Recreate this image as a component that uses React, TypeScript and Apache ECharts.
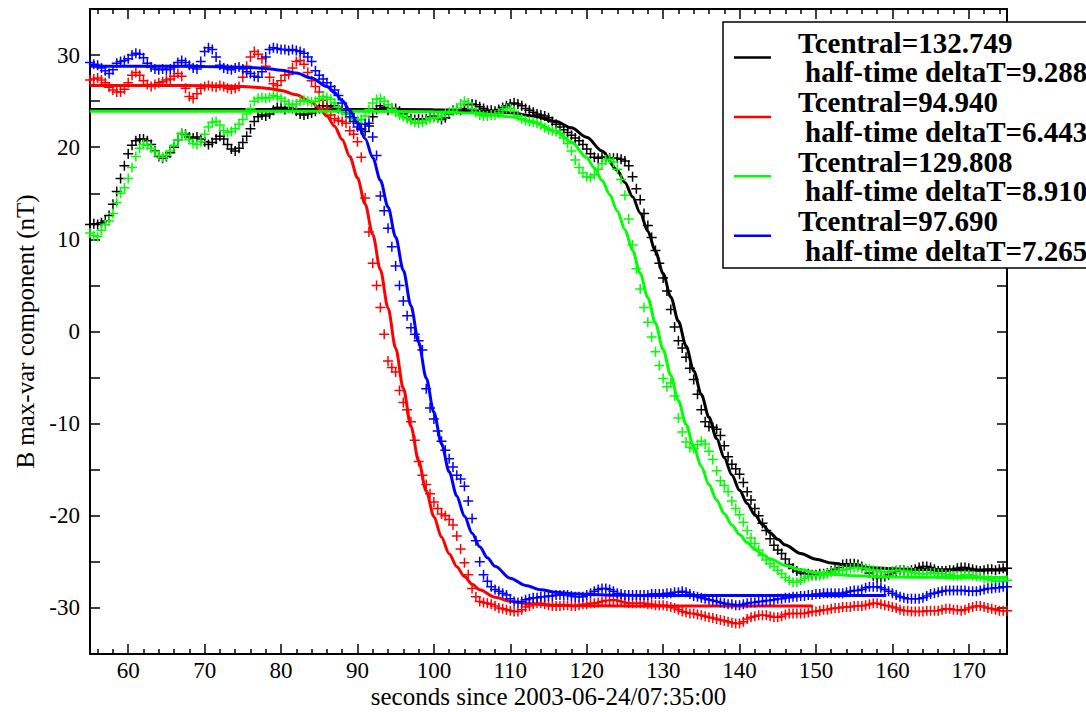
import React, { useEffect, useRef } from "react";
import * as echarts from "echarts";

// sampling grid of the measured data (seconds)
const T_START = 55;
const T_STEP = 0.5;

const BLACK = [
  11.6, 11.7, 11.6, 11.8, 12.0, 12.6, 13.8, 15.2, 16.6, 18.0,
  19.3, 20.2, 20.7, 20.9, 20.9, 20.7, 20.3, 19.6, 19.0, 18.8,
  19.0, 19.4, 20.0, 20.8, 21.5, 21.4, 21.1, 21.0, 21.1, 20.9,
  20.6, 20.3, 20.5, 20.9, 21.2, 20.9, 20.3, 19.8, 19.6, 19.9,
  20.5, 21.2, 22.0, 22.8, 23.3, 23.5, 23.4, 23.6, 24.0, 24.3,
  24.3, 24.1, 24.3, 24.2, 23.9, 23.6, 23.5, 23.6, 23.7, 23.9,
  24.2, 24.5, 24.5, 24.4, 24.5, 24.2, 24.0, 23.8, 23.6, 23.2,
  22.6, 22.0, 21.7, 22.3, 23.3, 24.1, 24.5, 24.3, 24.0, 24.2,
  24.2, 23.9, 23.6, 23.3, 23.1, 23.0, 23.1, 23.0, 23.1, 23.3,
  23.4, 23.2, 23.0, 23.2, 23.6, 24.0, 24.1, 24.0, 24.2, 24.6,
  24.7, 24.6, 24.4, 24.2, 24.0, 24.0, 23.9, 24.1, 24.3, 24.5,
  24.7, 24.8, 24.7, 24.5, 24.2, 24.0, 23.8, 23.6, 23.5, 23.4,
  23.2, 22.8, 22.5, 22.2, 21.9, 21.6, 21.3, 21.0, 20.7, 20.3,
  19.8, 19.3, 18.9, 18.8, 18.9, 18.9, 18.8, 18.8, 18.8, 18.7,
  18.5, 18.0, 16.8, 15.5, 14.3, 12.8, 11.5, 10.2, 8.8, 7.4,
  5.8, 4.4, 2.4, 0.5, -1.0, -1.8, -2.8, -4.0, -5.2, -6.8,
  -8.5, -9.8, -10.3, -10.4, -10.6, -11.3, -12.4, -13.6, -14.4, -14.9,
  -15.5, -16.4, -17.4, -18.3, -19.2, -20.0, -20.8, -21.6, -22.5, -23.2,
  -23.7, -24.1, -24.7, -25.3, -25.7, -26.0, -26.2, -26.3, -26.3, -26.4,
  -26.4, -26.3, -26.3, -26.2, -26.0, -25.8, -25.6, -25.3, -25.2, -25.2,
  -25.2, -25.3, -25.5, -25.8, -26.2, -26.5, -26.7, -26.7, -26.6, -26.4,
  -26.2, -26.0, -25.9, -25.9, -26.0, -25.9, -25.8, -25.6, -25.5, -25.5,
  -25.6, -25.8, -26.0, -26.0, -26.0, -25.9, -25.9, -25.7, -25.6, -25.6,
  -25.7, -25.8, -25.9, -26.0, -25.9, -25.8, -25.8, -25.9, -25.8, -25.7,
  -25.7,
];

const RED = [
  27.3, 27.4, 27.5, 27.3, 27.0, 26.5, 26.2, 26.0, 26.0, 26.3,
  27.0, 27.8, 28.1, 27.8, 27.2, 26.8, 26.6, 26.8, 27.0, 27.1,
  27.3, 27.4, 27.7, 28.0, 27.7, 26.4, 25.5, 25.3, 25.8, 26.4,
  26.6, 26.7, 26.6, 26.5, 26.7, 26.6, 26.4, 26.3, 26.4, 26.6,
  27.6, 28.8, 29.8, 30.4, 30.1, 29.6, 28.8, 27.6, 26.9, 26.7,
  27.2, 27.8, 27.9, 28.6, 29.3, 29.4, 29.0, 28.1, 27.2, 26.6,
  26.0, 25.1, 24.2, 23.5, 23.1, 22.9, 22.8, 22.6, 21.8, 21.4,
  20.6, 18.9, 14.5, 10.8, 7.4, 5.0, 2.6, -0.3, -3.2, -3.9,
  -4.4, -6.4, -7.7, -8.5, -9.8, -11.8, -14.1, -15.6, -16.6, -17.6,
  -18.5, -19.2, -19.8, -20.0, -20.4, -21.0, -22.2, -23.6, -25.1, -26.4,
  -27.9, -28.8, -29.3, -29.4, -29.5, -29.6, -29.8, -30.0, -30.1, -30.2,
  -30.3, -30.4, -30.4, -30.2, -29.9, -29.8, -29.6, -29.5, -29.5, -29.6,
  -29.7, -29.8, -29.8, -29.8, -29.7, -29.7, -29.8, -29.8, -29.7, -29.6,
  -29.6, -29.5, -29.5, -29.4, -29.3, -29.2, -29.2, -29.1, -29.2, -29.3,
  -29.4, -29.5, -29.5, -29.5, -29.5, -29.5, -29.6, -29.6, -29.7, -29.7,
  -29.7, -29.8, -29.9, -30.0, -30.2, -30.4, -30.5, -30.6, -30.6, -30.7,
  -30.8, -30.9, -31.0, -31.1, -31.2, -31.3, -31.4, -31.5, -31.6, -31.7,
  -31.7, -31.5, -31.2, -31.0, -30.9, -30.8, -30.8, -30.8, -30.9, -31.0,
  -31.0, -30.9, -30.7, -30.6, -30.6, -30.6, -30.6, -30.6, -30.5, -30.4,
  -30.4, -30.3, -30.2, -30.2, -30.1, -30.0, -30.0, -29.9, -29.9, -29.9,
  -29.8, -29.8, -29.8, -29.7, -29.6, -29.5, -29.5, -29.6, -29.7, -29.8,
  -29.9, -30.0, -30.2, -30.3, -30.3, -30.4, -30.4, -30.4, -30.4, -30.3,
  -30.3, -30.3, -30.3, -30.2, -30.1, -30.1, -30.2, -30.2, -30.3, -30.2,
  -30.0, -29.9, -29.8, -29.8, -29.9, -30.0, -30.1, -30.2, -30.3, -30.3,
  -30.3,
];

const GREEN = [
  10.7, 10.4, 10.3, 11.0, 11.6, 12.0, 12.8, 14.0, 15.0, 15.6,
  16.6, 17.8, 19.0, 19.9, 20.3, 20.2, 19.9, 19.5, 19.1, 18.9,
  19.1, 19.6, 20.2, 20.8, 21.5, 21.3, 20.8, 20.4, 20.3, 20.6,
  21.4, 22.2, 22.7, 22.8, 22.4, 21.8, 21.6, 21.7, 22.0, 22.5,
  23.0, 23.6, 24.2, 25.0, 25.3, 25.4, 25.3, 25.4, 25.6, 25.5,
  25.3, 25.0, 24.7, 24.6, 24.7, 25.0, 25.1, 25.0, 24.9, 25.0,
  25.3, 25.5, 25.4, 25.2, 24.8, 24.4, 24.0, 23.6, 23.2, 23.0,
  22.9, 23.0, 23.4, 24.1, 24.8, 25.2, 25.3, 25.0, 24.6, 24.1,
  23.8, 23.5, 23.3, 23.1, 22.9, 22.7, 22.6, 22.7, 22.9, 23.1,
  23.2, 23.2, 23.4, 23.7, 23.8, 23.9, 24.2, 24.7, 25.0, 24.8,
  24.2, 23.8, 23.5, 23.4, 23.4, 23.5, 23.5, 23.7, 24.0, 24.2,
  24.2, 23.9, 23.4, 23.1, 22.9, 22.8, 22.7, 22.6, 22.4, 22.1,
  21.9, 21.8, 21.7, 21.5, 21.0, 20.4, 19.6, 18.6, 17.8, 17.2,
  16.8, 16.7, 17.0, 17.6, 18.2, 18.6, 18.7, 18.4, 17.6, 16.5,
  14.8, 12.2, 9.4, 6.8, 4.6, 2.6, 1.0, -0.6, -2.2, -3.7,
  -5.1, -6.0, -5.6, -7.0, -9.4, -10.9, -12.0, -12.6, -12.7, -12.3,
  -11.9, -12.2, -13.0, -13.9, -15.1, -16.2, -16.7, -17.4, -18.4, -19.2,
  -19.9, -20.7, -21.6, -22.4, -23.0, -23.7, -24.3, -24.8, -25.2, -25.5,
  -25.9, -26.3, -26.7, -27.0, -27.2, -27.2, -27.0, -26.8, -26.6, -26.5,
  -26.5, -26.5, -26.4, -26.3, -26.1, -26.0, -25.9, -25.9, -25.8, -25.7,
  -25.6, -25.6, -25.7, -25.7, -25.8, -25.9, -26.0, -26.1, -26.1, -26.1,
  -26.0, -25.9, -25.9, -26.0, -26.0, -26.1, -26.2, -26.3, -26.3, -26.3,
  -26.2, -26.2, -26.3, -26.3, -26.4, -26.4, -26.5, -26.5, -26.5, -26.4,
  -26.4, -26.5, -26.6, -26.6, -26.8, -26.9, -27.0, -27.1, -27.1, -27.1,
  -27.0,
];

const BLUE = [
  29.2, 29.0, 28.9, 28.6, 28.3, 28.0, 28.4, 29.1, 29.3, 29.4,
  29.6, 30.0, 30.2, 30.1, 29.7, 29.1, 28.7, 28.5, 28.4, 28.5,
  28.4, 28.5, 28.7, 29.2, 29.4, 29.2, 28.9, 28.6, 28.5, 29.3,
  30.4, 30.8, 30.6, 29.8, 28.9, 28.6, 28.5, 28.4, 28.6, 28.7,
  28.5, 28.2, 28.0, 27.7, 27.6, 28.2, 29.8, 30.6, 30.8, 30.7,
  30.6, 30.6, 30.5, 30.6, 30.5, 30.4, 30.2, 29.8, 29.3, 28.3,
  27.8, 27.4, 27.0, 26.6, 26.2, 25.6, 24.8, 24.0, 23.3, 22.8,
  22.2, 21.9, 22.5, 22.6, 21.1, 19.1, 14.7, 13.1, 11.2, 9.2,
  7.1, 5.0, 3.3, 1.7, 0.4, -0.3, -1.0, -2.0, -6.2, -8.3,
  -9.5, -10.8, -11.9, -12.9, -13.8, -14.7, -15.6, -16.0, -16.8, -18.4,
  -20.3, -22.7, -25.0, -26.4, -27.1, -27.7, -28.0, -28.2, -28.4, -28.6,
  -29.0, -29.3, -29.4, -29.3, -29.1, -29.0, -28.9, -28.9, -28.8, -28.8,
  -28.7, -28.7, -28.6, -28.6, -28.6, -28.6, -28.7, -28.8, -28.8, -28.8,
  -28.6, -28.4, -28.2, -28.0, -27.9, -27.9, -28.0, -28.2, -28.4, -28.5,
  -28.6, -28.6, -28.6, -28.6, -28.6, -28.6, -28.6, -28.5, -28.5, -28.5,
  -28.5, -28.4, -28.4, -28.3, -28.3, -28.2, -28.3, -28.5, -28.7, -28.8,
  -28.9, -29.0, -29.1, -29.2, -29.3, -29.4, -29.5, -29.6, -29.6, -29.7,
  -29.7, -29.6, -29.5, -29.4, -29.4, -29.3, -29.3, -29.2, -29.2, -29.1,
  -29.0, -29.0, -28.9, -28.9, -28.8, -28.8, -28.7, -28.7, -28.6, -28.6,
  -28.5, -28.5, -28.4, -28.4, -28.4, -28.4, -28.4, -28.4, -28.3, -28.2,
  -28.1, -28.1, -28.0, -27.8, -27.7, -27.7, -27.7, -27.8, -28.0, -28.2,
  -28.4, -28.6, -28.8, -28.9, -29.0, -29.0, -29.0, -29.0, -28.9, -28.7,
  -28.5, -28.4, -28.3, -28.2, -28.1, -28.1, -28.1, -28.1, -28.1, -28.1,
  -28.2, -28.2, -28.2, -28.1, -28.0, -27.9, -27.9, -27.8, -27.8, -27.7,
  -27.7,
];

// fitted curves, tabulated (time, value)
const BLACK_FIT_T = [55, 90, 100, 105, 110, 113, 116, 118, 120, 122, 124, 125, 126, 127, 128, 129, 130, 131, 132, 133, 134, 135, 136, 137, 138, 139, 140, 141, 142, 143, 144, 145, 146, 148, 150, 152, 155, 158, 162, 166, 170, 175];
const BLACK_FIT_V = [24.1, 24.1, 24.06, 23.97, 23.73, 23.4, 22.78, 22.1, 21.08, 19.6, 17.5, 16.17, 14.63, 12.86, 10.87, 8.68, 6.29, 3.75, 1.11, -1.58, -4.25, -6.84, -9.31, -11.61, -13.7, -15.58, -17.23, -18.67, -19.9, -20.95, -21.83, -22.56, -23.18, -24.09, -24.71, -25.12, -25.49, -25.68, -25.81, -25.86, -25.88, -25.89];

const RED_FIT_T = [55, 65, 70, 75, 78, 80, 82, 84, 85, 86, 87, 88, 89, 90, 91, 92, 93, 94, 95, 96, 97, 98, 99, 100, 101, 102, 103, 104, 105, 106, 108, 110, 112, 115, 120, 130, 149.6];
const RED_FIT_V = [26.7, 26.69, 26.68, 26.58, 26.41, 26.16, 25.7, 24.87, 24.23, 23.39, 22.28, 20.83, 18.98, 16.68, 13.85, 10.52, 6.71, 2.54, -1.81, -6.16, -10.29, -14.04, -17.32, -20.08, -22.33, -24.12, -25.52, -26.6, -27.42, -28.03, -28.84, -29.28, -29.52, -29.69, -29.77, -29.8, -29.8];

const GREEN_FIT_T = [55, 90, 100, 105, 110, 113, 116, 118, 120, 121, 122, 123, 124, 125, 126, 127, 128, 129, 130, 131, 132, 133, 134, 135, 136, 137, 138, 139, 140, 141, 142, 143, 144, 146, 148, 150, 152, 155, 160, 165, 175];
const GREEN_FIT_V = [23.9, 23.89, 23.84, 23.71, 23.31, 22.76, 21.72, 20.56, 18.86, 17.75, 16.42, 14.88, 13.09, 11.07, 8.8, 6.32, 3.66, 0.89, -1.95, -4.76, -7.5, -10.09, -12.5, -14.67, -16.61, -18.3, -19.76, -21.0, -22.04, -22.9, -23.62, -24.21, -24.69, -25.4, -25.86, -26.16, -26.35, -26.52, -26.64, -26.68, -26.7];

const BLUE_FIT_T = [55, 65, 70, 75, 78, 80, 82, 84, 86, 87, 88, 89, 90, 91, 92, 93, 94, 95, 96, 97, 98, 99, 100, 101, 102, 103, 104, 105, 106, 107, 108, 110, 112, 114, 116, 118, 120, 125, 130, 140, 159.2];
const BLUE_FIT_V = [28.8, 28.79, 28.77, 28.69, 28.55, 28.36, 28.05, 27.5, 26.59, 25.92, 25.07, 23.99, 22.63, 20.94, 18.87, 16.41, 13.52, 10.25, 6.64, 2.79, -1.16, -5.05, -8.77, -12.18, -15.22, -17.85, -20.06, -21.89, -23.37, -24.55, -25.48, -26.78, -27.56, -28.02, -28.29, -28.45, -28.54, -28.63, -28.65, -28.66, -28.66];

const LEGEND_LINES = [
  "Tcentral=132.749", "half-time deltaT=9.288",
  "Tcentral=94.940", "half-time deltaT=6.443",
  "Tcentral=129.808", "half-time deltaT=8.910",
  "Tcentral=97.690", "half-time deltaT=7.265",
];
const COLORS = ["#000000", "#ff0000", "#00ff00", "#0000ff"];

const X_MAJOR = [60, 70, 80, 90, 100, 110, 120, 130, 140, 150, 160, 170];
const X_MINOR = [56, 58, 62, 64, 66, 68, 72, 74, 76, 78, 82, 84, 86, 88, 92, 94, 96, 98, 102, 104, 106, 108, 112, 114, 116, 118, 122, 124, 126, 128, 132, 134, 136, 138, 142, 144, 146, 148, 152, 154, 156, 158, 162, 164, 166, 168, 172, 174];
const Y_TICKS = [-30, -25, -20, -15, -10, -5, 0, 5, 10, 15, 20, 25, 30];
const Y_LABELS = [-30, -20, -10, 0, 10, 20, 30];

const SERIF = "Liberation Serif";
const PLUS = "path://M-1,-0.15L-0.15,-0.15L-0.15,-1L0.15,-1L0.15,-0.15L1,-0.15L1,0.15L0.15,0.15L0.15,1L-0.15,1L-0.15,0.15L-1,0.15Z";

function pairsFromGrid(vals: number[]) {
  return vals.map((v, i) => [T_START + i * T_STEP, v]);
}
function pairs(ts: number[], vs: number[]) {
  return ts.map((t, i) => [t, vs[i]]);
}

export default function App() {
  const ref = useRef<HTMLDivElement>(null);
  useEffect(() => {
    if (!ref.current) return;
    const chart = echarts.init(ref.current, undefined, { renderer: "svg" });
    const lineAxis = { onZero: false, lineStyle: { color: "#000", width: 2 } };
    const xBase = { type: "value", min: 55, max: 175, splitLine: { show: false } };
    const yBase = { type: "value", min: -35, max: 35, interval: 5, splitLine: { show: false } };

    const dataSets = [BLACK, RED, GREEN, BLUE];
    const fits = [
      pairs(BLACK_FIT_T, BLACK_FIT_V),
      pairs(RED_FIT_T, RED_FIT_V),
      pairs(GREEN_FIT_T, GREEN_FIT_V),
      pairs(BLUE_FIT_T, BLUE_FIT_V),
    ];
    const series: any[] = [];
    dataSets.forEach((d, k) => {
      series.push({
        type: "scatter",
        data: pairsFromGrid(d),
        symbol: PLUS,
        symbolSize: 10,
        itemStyle: { color: COLORS[k], opacity: 1 },
        silent: true,
        z: 2 + k * 2,
      });
      series.push({
        type: "line",
        data: fits[k],
        showSymbol: false,
        symbol: "none",
        smooth: 0.3,
        smoothMonotone: "x",
        lineStyle: { color: COLORS[k], width: 3 },
        silent: true,
        z: 3 + k * 2,
      });
    });

    const legendEls: any[] = [
      {
        type: "rect",
        shape: { x: 723, y: 22, width: 420, height: 246 },
        style: { fill: "#fff", stroke: "#000", lineWidth: 1.5 },
        z: 100,
      },
    ];
    const lineYs = [42.5, 72.3, 102, 131.8, 161.5, 191.2, 221, 250.6];
    COLORS.forEach((c, k) => {
      const y = (lineYs[2 * k] + lineYs[2 * k + 1]) / 2;
      legendEls.push({
        type: "line",
        shape: { x1: 734, y1: y, x2: 771, y2: y },
        style: { stroke: c, lineWidth: 2.5 },
        z: 101,
      });
    });
    const titles = LEGEND_LINES.map((t, i) => ({
      text: t,
      left: i % 2 === 0 ? 798 : 805,
      top: lineYs[i] - 15,
      padding: 0,
      z: 110,
      textStyle: {
        fontFamily: SERIF,
        fontSize: 29,
        fontWeight: "bold",
        color: "#000",
        lineHeight: 30,
      },
    }));

    chart.setOption({
      animation: false,
      backgroundColor: "#fff",
      grid: { left: 90, top: 9, width: 917, height: 645, outerBoundsMode: "none", containLabel: false },
      title: titles,
      xAxis: [
        {
          ...xBase,
          position: "bottom",
          axisLine: lineAxis,
          axisTick: { inside: true, length: 10, customValues: X_MAJOR, lineStyle: { color: "#000", width: 1.5 } },
          axisLabel: { customValues: X_MAJOR, color: "#000", fontFamily: SERIF, fontSize: 23, lineHeight: 23, margin: 5 },
          name: "seconds since 2003-06-24/07:35:00",
          nameLocation: "middle",
          nameGap: 30,
          nameMoveOverlap: false,
          nameTextStyle: { color: "#000", fontFamily: SERIF, fontSize: 25, lineHeight: 25 },
        },
        {
          ...xBase,
          position: "bottom",
          axisLine: { show: false, onZero: false },
          axisTick: { inside: true, length: 5, customValues: X_MINOR, lineStyle: { color: "#000", width: 1.5 } },
          axisLabel: { show: false },
        },
        {
          ...xBase,
          position: "top",
          axisLine: lineAxis,
          axisTick: { inside: true, length: 10, customValues: X_MAJOR, lineStyle: { color: "#000", width: 1.5 } },
          axisLabel: { show: false },
        },
        {
          ...xBase,
          position: "top",
          axisLine: { show: false, onZero: false },
          axisTick: { inside: true, length: 5, customValues: X_MINOR, lineStyle: { color: "#000", width: 1.5 } },
          axisLabel: { show: false },
        },
      ],
      yAxis: [
        {
          ...yBase,
          position: "left",
          axisLine: lineAxis,
          axisTick: { inside: true, length: 10, customValues: Y_TICKS, lineStyle: { color: "#000", width: 1.5 } },
          axisLabel: { customValues: Y_LABELS, color: "#000", fontFamily: SERIF, fontSize: 23, margin: 10 },
          name: "B max-var component (nT)",
          nameLocation: "middle",
          nameGap: 52,
          nameMoveOverlap: false,
          nameTextStyle: { color: "#000", fontFamily: SERIF, fontSize: 25 },
        },
        {
          ...yBase,
          position: "right",
          axisLine: lineAxis,
          axisTick: { inside: true, length: 10, customValues: Y_TICKS, lineStyle: { color: "#000", width: 1.5 } },
          axisLabel: { show: false },
        },
      ],
      series,
      graphic: { elements: legendEls },
    });
    return () => chart.dispose();
  }, []);
  return (
    <div
      ref={ref}
      style={{ position: "fixed", left: 0, top: 0, width: 1086, height: 712, background: "#fff" }}
    />
  );
}
